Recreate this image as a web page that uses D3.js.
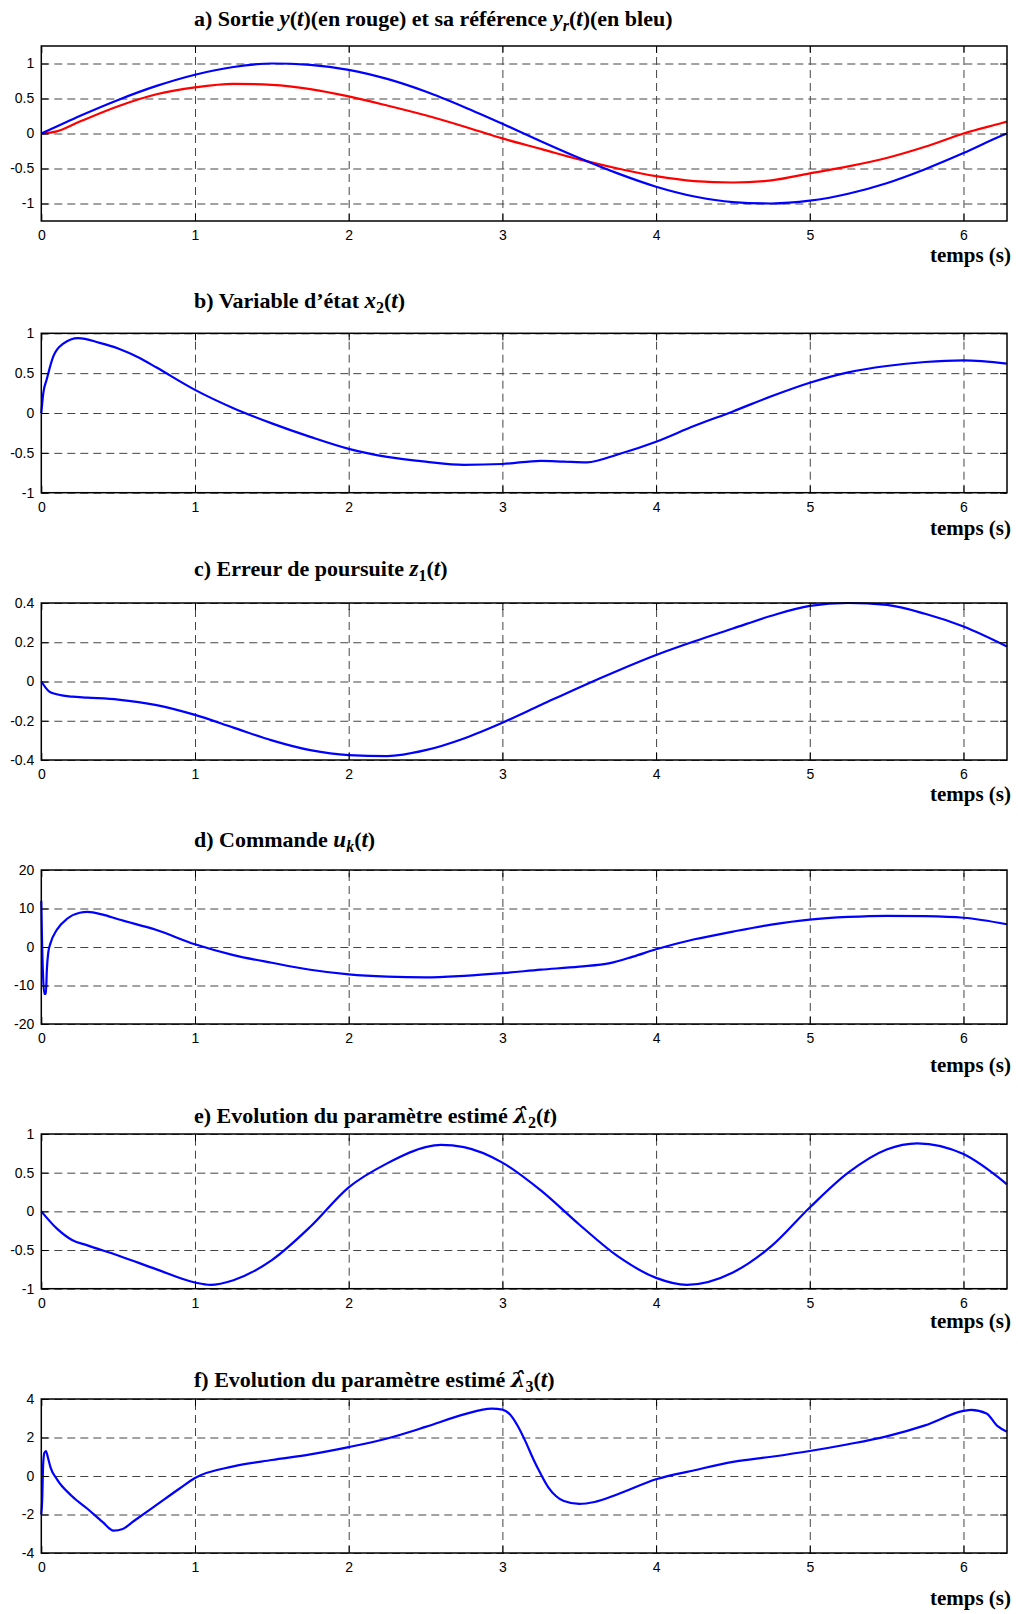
<!DOCTYPE html>
<html>
<head>
<meta charset="utf-8">
<script src="https://cdnjs.cloudflare.com/ajax/libs/d3/7.8.5/d3.min.js"></script>
<style>
  body { margin: 0; background: #fff; }
  .tick text { font-family: "Liberation Sans", Arial, sans-serif; font-size: 14px; fill: #000; }
  .title, .xlab { font-family: "Liberation Serif", "Times New Roman", serif; font-weight: bold; fill: #000; }
  .grid line { stroke: #444; stroke-dasharray: 8,5; stroke-width: 1; }
  .grid path { display: none; }
  .inner path { display: none; }
  .inner line { stroke: #000; stroke-width: 1; }
</style>
</head>
<body>
<div id="chart"></div>
<script>
// time axis ticks (s)
const xTicks = [0, 1, 2, 3, 4, 5, 6];

// a) output y(t) (red) and reference yr(t) (blue)
const tA = [0, 0.1, 0.25, 0.5, 0.75, 1, 1.25, 1.5, 1.75, 2, 2.25, 2.5, 2.75, 3, 3.25, 3.5, 3.75, 4, 4.25, 4.5, 4.75, 5, 5.25, 5.5, 5.75, 6, 6.25, 6.283];
const yRef = [0, 0.10, 0.25, 0.48, 0.68, 0.84, 0.95, 1.00, 0.98, 0.91, 0.78, 0.60, 0.38, 0.14, -0.11, -0.35, -0.57, -0.76, -0.90, -0.98, -1.00, -0.96, -0.86, -0.71, -0.51, -0.28, -0.03, 0];
const yOut = [0, 0.03, 0.17, 0.39, 0.56, 0.66, 0.71, 0.695, 0.635, 0.53, 0.40, 0.26, 0.10, -0.07, -0.22, -0.37, -0.50, -0.61, -0.68, -0.70, -0.67, -0.57, -0.47, -0.35, -0.19, 0.0, 0.15, 0.17];

// b) state variable x2(t)
const tB = [0, 0.013, 0.035, 0.078, 0.143, 0.24, 0.38, 0.5, 0.64, 0.75, 1, 1.25, 1.5, 1.75, 2, 2.25, 2.5, 2.75, 3, 3.25, 3.4, 3.55, 3.75, 4, 4.25, 4.5, 4.75, 5, 5.25, 5.5, 5.75, 6, 6.283];
const yX2 = [0, 0.25, 0.42, 0.71, 0.87, 0.94, 0.88, 0.81, 0.69, 0.57, 0.29, 0.06, -0.13, -0.30, -0.45, -0.55, -0.61, -0.65, -0.64, -0.60, -0.61, -0.62, -0.52, -0.36, -0.16, 0.02, 0.21, 0.38, 0.51, 0.59, 0.64, 0.66, 0.62];

// c) tracking error z1(t)
const tC = [0, 0.05, 0.1, 0.2, 0.3, 0.5, 0.75, 1, 1.25, 1.5, 1.75, 2, 2.25, 2.5, 2.75, 3, 3.25, 3.5, 3.75, 4, 4.25, 4.5, 4.75, 5, 5.25, 5.5, 5.75, 6, 6.283];
const yZ1 = [0, -0.05, -0.065, -0.077, -0.082, -0.092, -0.12, -0.17, -0.235, -0.30, -0.35, -0.375, -0.38, -0.35, -0.29, -0.21, -0.12, -0.03, 0.055, 0.135, 0.205, 0.27, 0.335, 0.385, 0.40, 0.39, 0.345, 0.28, 0.178];

// d) control uk(t)
const tD = [0, 0.004, 0.012, 0.02, 0.03, 0.036, 0.045, 0.06, 0.1, 0.17, 0.25, 0.3, 0.4, 0.5, 0.75, 1, 1.25, 1.5, 1.75, 2, 2.25, 2.5, 2.75, 3, 3.25, 3.5, 3.7, 3.85, 4, 4.25, 4.5, 4.75, 5, 5.25, 5.5, 5.75, 6, 6.283];
const yU = [12, 3, -8, -12.2, -12.2, -6, -1.5, 1.0, 4.4, 7.4, 8.9, 9.1, 8.4, 7.2, 4.4, 0.7, -2.1, -4.1, -5.9, -7.1, -7.7, -7.9, -7.5, -6.8, -5.9, -5.1, -4.2, -2.5, -0.6, 2.0, 4.0, 5.8, 7.1, 7.8, 8.1, 8.0, 7.6, 5.9];

// e) estimated parameter lambda2(t)
const tE = [0, 0.1, 0.2, 0.3, 0.5, 0.75, 1, 1.1, 1.25, 1.5, 1.75, 2, 2.25, 2.5, 2.6, 2.75, 3, 3.25, 3.5, 3.75, 4, 4.2, 4.5, 4.75, 5, 5.25, 5.5, 5.7, 6, 6.283];
const yL2 = [0, -0.22, -0.37, -0.44, -0.57, -0.75, -0.92, -0.95, -0.89, -0.63, -0.20, 0.31, 0.62, 0.83, 0.86, 0.83, 0.63, 0.27, -0.17, -0.58, -0.86, -0.95, -0.79, -0.45, 0.05, 0.50, 0.80, 0.88, 0.74, 0.35];

// f) estimated parameter lambda3(t)
const tF = [0, 0.006, 0.012, 0.02, 0.03, 0.045, 0.06, 0.1, 0.2, 0.3, 0.4, 0.47, 0.53, 0.6, 0.75, 0.9, 1, 1.25, 1.5, 1.75, 2, 2.25, 2.5, 2.75, 2.93, 3.0, 3.05, 3.1, 3.15, 3.2, 3.25, 3.3, 3.35, 3.4, 3.5, 3.6, 3.75, 4, 4.25, 4.5, 4.75, 5, 5.25, 5.5, 5.75, 6, 6.05, 6.15, 6.22, 6.283];
const yL3 = [-2, -1.2, 0.6, 1.2, 1.3, 0.9, 0.45, -0.15, -1.05, -1.7, -2.4, -2.84, -2.75, -2.35, -1.5, -0.65, -0.1, 0.5, 0.83, 1.12, 1.5, 1.95, 2.55, 3.2, 3.5, 3.45, 3.2, 2.6, 1.8, 0.9, 0.1, -0.6, -1.05, -1.3, -1.45, -1.35, -0.95, -0.17, 0.3, 0.73, 1.0, 1.3, 1.65, 2.06, 2.63, 3.38, 3.44, 3.25, 2.6, 2.3];

// y tick labels per panel
const yTicksA = [-1, -0.5, 0, 0.5, 1];
const yTicksB = [-1, -0.5, 0, 0.5, 1];
const yTicksC = [-0.4, -0.2, 0, 0.2, 0.4];
const yTicksD = [-20, -10, 0, 10, 20];
const yTicksE = [-1, -0.5, 0, 0.5, 1];
const yTicksF = [-4, -2, 0, 2, 4];

// titles: [text, kind]  n = normal, i = italic, s = subscript, si = italic subscript, h = hatted letter
const titleA = [["a) Sortie ", "n"], ["y", "i"], ["(", "n"], ["t", "i"], [")(en rouge) et sa référence ", "n"], ["y", "i"], ["r", "si"], ["(", "n"], ["t", "i"], [")(en bleu)", "n"]];
const titleB = [["b) Variable d\u2019état ", "n"], ["x", "i"], ["2", "s"], ["(", "n"], ["t", "i"], [")", "n"]];
const titleC = [["c) Erreur de poursuite ", "n"], ["z", "i"], ["1", "s"], ["(", "n"], ["t", "i"], [")", "n"]];
const titleD = [["d) Commande ", "n"], ["u", "i"], ["k", "si"], ["(", "n"], ["t", "i"], [")", "n"]];
const titleE = [["e) Evolution du paramètre estimé ", "n"], ["\u03bb\u0302", "h"], ["2", "s"], ["(", "n"], ["t", "i"], [")", "n"]];
const titleF = [["f) Evolution du paramètre estimé ", "n"], ["\u03bb\u0302", "h"], ["3", "s"], ["(", "n"], ["t", "i"], [")", "n"]];

const width = 1018, height = 1614;
const left = 41.3, right = 1007;

const panels = [
    {top: 46, bottom: 221, dom: [-1.25, 1.25], ticks: yTicksA, titleY: 26, labY: 262, title: titleA,
     series: [{t: tA, v: yOut, c: "#ff0000"}, {t: tA, v: yRef, c: "#0000ff"}]},
    {top: 333.3, bottom: 492.7, dom: [-1, 1], ticks: yTicksB, titleY: 308, labY: 535, title: titleB,
     series: [{t: tB, v: yX2, c: "#0000ff"}]},
    {top: 603, bottom: 760, dom: [-0.4, 0.4], ticks: yTicksC, titleY: 576, labY: 801, title: titleC,
     series: [{t: tC, v: yZ1, c: "#0000ff"}]},
    {top: 870, bottom: 1024, dom: [-20, 20], ticks: yTicksD, titleY: 847, labY: 1072, title: titleD,
     series: [{t: tD, v: yU, c: "#0000ff"}]},
    {top: 1134, bottom: 1288.7, dom: [-1, 1], ticks: yTicksE, titleY: 1123, labY: 1328, title: titleE,
     series: [{t: tE, v: yL2, c: "#0000ff"}]},
    {top: 1399, bottom: 1553, dom: [-4, 4], ticks: yTicksF, titleY: 1387, labY: 1605, title: titleF,
     series: [{t: tF, v: yL3, c: "#0000ff"}]}
];

const svg = d3.select("#chart")
    .append("svg")
    .attr("width", width)
    .attr("height", height)
    .style("display", "block");

svg.append("rect").attr("width", width).attr("height", height).attr("fill", "#fff");

const x = d3.scaleLinear().domain([0, 2 * Math.PI]).range([left, right]);
const fmt = d => String(d);

panels.forEach(p => {
    const y = d3.scaleLinear().domain(p.dom).range([p.bottom, p.top]);
    const g = svg.append("g");
    const h = p.bottom - p.top, w = right - left;

    // dashed grid
    g.append("g")
        .attr("class", "grid")
        .attr("transform", `translate(0,${p.bottom})`)
        .call(d3.axisBottom(x).tickValues(xTicks.filter(d => d > 0)).tickSize(-h).tickFormat(""));
    g.append("g")
        .attr("class", "grid")
        .attr("transform", `translate(${left},0)`)
        .call(d3.axisLeft(y).tickValues(p.ticks).tickSize(-w).tickFormat(""));

    // curves
    const line = d3.line()
        .x(d => x(d[0]))
        .y(d => y(d[1]))
        .curve(d3.curveMonotoneX);
    p.series.forEach(s => {
        g.append("path")
            .datum(s.t.map((t, i) => [t, s.v[i]]))
            .attr("fill", "none")
            .attr("stroke", s.c)
            .attr("stroke-width", 2.2)
            .attr("stroke-linejoin", "round")
            .attr("d", line);
    });

    // axes with inward ticks on all four sides
    g.append("g")
        .attr("class", "inner")
        .attr("transform", `translate(0,${p.bottom})`)
        .call(d3.axisBottom(x).tickValues(xTicks).tickSizeInner(-7).tickSizeOuter(0).tickPadding(9).tickFormat(fmt));
    g.append("g")
        .attr("class", "inner")
        .attr("transform", `translate(${left},0)`)
        .call(d3.axisLeft(y).tickValues(p.ticks).tickSizeInner(-7).tickSizeOuter(0).tickPadding(7).tickFormat(fmt));
    g.append("g")
        .attr("class", "inner")
        .attr("transform", `translate(0,${p.top})`)
        .call(d3.axisTop(x).tickValues(xTicks).tickSizeInner(-7).tickSizeOuter(0).tickFormat(""));
    g.append("g")
        .attr("class", "inner")
        .attr("transform", `translate(${right},0)`)
        .call(d3.axisRight(y).tickValues(p.ticks).tickSizeInner(-7).tickSizeOuter(0).tickFormat(""));

    g.append("rect")
        .attr("x", left).attr("y", p.top)
        .attr("width", w).attr("height", h)
        .attr("fill", "none")
        .attr("stroke", "#000")
        .attr("stroke-width", 1.5);

    // title
    const tt = g.append("text")
        .attr("class", "title")
        .attr("x", 194)
        .attr("y", p.titleY)
        .attr("font-size", 22);
    let shifted = false;
    p.title.forEach(([txt, kind]) => {
        const ts = tt.append("tspan").text(txt);
        if (kind === "s" || kind === "si") {
            ts.attr("dy", 5).attr("font-size", 16);
            if (kind === "si") ts.attr("font-style", "italic");
            shifted = true;
        } else {
            if (shifted) { ts.attr("dy", -5); shifted = false; }
            if (kind === "i") ts.attr("font-style", "italic").attr("font-size", 23);
            if (kind === "h") ts.attr("font-style", "italic").attr("font-size", 21)
                .style("font-family", "'DejaVu Serif', serif");
        }
    });

    g.append("text")
        .attr("class", "xlab")
        .attr("x", 1011)
        .attr("y", p.labY)
        .attr("text-anchor", "end")
        .attr("font-size", 21)
        .text("temps (s)");
});
</script>
</body>
</html>
